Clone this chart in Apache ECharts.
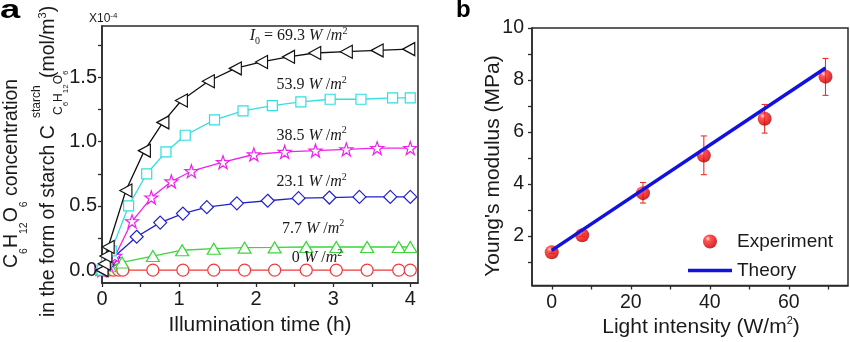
<!DOCTYPE html>
<html><head><meta charset="utf-8">
<script src="https://cdn.jsdelivr.net/npm/echarts@6/dist/echarts.min.js"></script>
<style>html,body{margin:0;padding:0;background:#fff}#c{width:850px;height:342px}</style>
</head><body><div id="c"></div>
<script>
// ---------- Panel a: starch concentration vs time (x1e-4 mol/m^3) ----------
const time693 = [0, 0.03, 0.05, 0.08, 0.31, 0.55, 0.79, 1.03, 1.38, 1.73, 2.07, 2.42, 2.76, 3.17, 3.57, 3.98];
const conc693 = [0, 0.05, 0.11, 0.18, 0.62, 0.93, 1.15, 1.32, 1.47, 1.57, 1.62, 1.66, 1.69, 1.70, 1.71, 1.72];
const time539 = [0, 0.06, 0.12, 0.345, 0.58, 0.83, 1.08, 1.46, 1.83, 2.21, 2.58, 2.96, 3.36, 3.77, 4.0];
const conc539 = [0, 0.07, 0.15, 0.50, 0.75, 0.92, 1.05, 1.17, 1.24, 1.28, 1.31, 1.33, 1.33, 1.34, 1.34];
const time385 = [0, 0.08, 0.17, 0.39, 0.64, 0.90, 1.16, 1.57, 1.97, 2.37, 2.77, 3.17, 3.57, 4.0];
const conc385 = [0, 0.05, 0.11, 0.38, 0.565, 0.69, 0.77, 0.84, 0.90, 0.92, 0.93, 0.94, 0.95, 0.95];
const time231 = [0, 0.07, 0.15, 0.45, 0.755, 1.05, 1.36, 1.75, 2.15, 2.55, 2.95, 3.34, 3.74, 4.0];
const conc231 = [0, 0.04, 0.10, 0.26, 0.37, 0.44, 0.49, 0.52, 0.54, 0.56, 0.565, 0.57, 0.57, 0.57];
const time77 = [0, 0.1, 0.26, 0.66, 1.04, 1.45, 1.85, 2.24, 2.65, 3.04, 3.44, 3.85, 4.0];
const conc77 = [0, 0.03, 0.06, 0.11, 0.155, 0.167, 0.175, 0.177, 0.18, 0.18, 0.18, 0.18, 0.18];
const time0 = [0.04, 0.085, 0.15, 0.215, 0.27, 0.66, 1.05, 1.45, 1.85, 2.24, 2.65, 3.04, 3.44, 3.85, 4.0];
const conc0 = [0, 0, 0, 0, 0, 0, 0, 0, 0, 0, 0, 0, 0, 0, 0];
const intensityLabels = ['69.3', '53.9', '38.5', '23.1', '7.7', '0'];

const aXTicks = [0, 0.5, 1, 1.5, 2, 2.5, 3, 3.5, 4];
const aXLabels = [0, 1, 2, 3, 4];
const aYTicks = [0, 0.25, 0.5, 0.75, 1, 1.25, 1.5, 1.75];
const aYLabels = [0, 0.5, 1, 1.5];

// ---------- Panel b: Young's modulus vs light intensity ----------
const intensity = [0, 7.7, 23.1, 38.5, 53.9, 69.3];
const modulus = [1.38, 2.03, 3.65, 5.10, 6.51, 8.13];
const errLow = [1.33, 1.98, 3.27, 4.36, 5.96, 7.41];
const errHigh = [1.43, 2.08, 4.06, 5.85, 7.06, 8.83];
const theoryX = [0, 69.3];
const theoryY = [1.45, 8.46];

const bXTicks = [0, 10, 20, 30, 40, 50, 60, 70];
const bXLabels = [0, 20, 40, 60];
const bYTicks = [1, 2, 3, 4, 5, 6, 7, 8, 9, 10];
const bYLabels = [2, 4, 6, 8, 10];

// ---------- styling ----------
const SANS = 'Liberation Sans, Arial, sans-serif';
const SERIF = 'Liberation Serif, Times New Roman, serif';
const AX = '#2a2a2a';
const TXT = '#1a1a1a';

const zip = (a, b) => a.map((v, i) => [v, b[i]]);

const labelRich = {
  n: { fontFamily: SERIF, fontSize: 16, color: TXT, lineHeight: 20 },
  i: { fontFamily: SERIF, fontStyle: 'italic', fontSize: 16, color: TXT, lineHeight: 20 },
  sup: { fontFamily: SERIF, fontSize: 10, color: TXT, verticalAlign: 'top', lineHeight: 10 },
  sub: { fontFamily: SERIF, fontSize: 10, color: TXT, verticalAlign: 'bottom', lineHeight: 10 }
};
function unitText(v, first) {
  const u = '{i|W}{n| /}{i|m}{sup|2}';
  return first ? '{i|I}{sub|0}{n| = ' + v + ' }' + u : '{n|' + v + ' }' + u;
}

const STAR = 'path://M50,2 L61.8,36.2 L97.6,36.2 L68.6,57.4 L79.6,92 L50,70.8 L20.4,92 L31.4,57.4 L2.4,36.2 L38.2,36.2 Z';

const seriesDefs = [
  { x: time693, y: conc693, color: '#111111', symbol: 'triangle', size: [13, 12], rot: 90, lab: [2.55, 1.82] },
  { x: time539, y: conc539, color: '#33dede', symbol: 'rect', size: [10, 10], rot: 0, lab: [2.72, 1.44] },
  { x: time385, y: conc385, color: '#ee22ee', symbol: STAR, size: [13, 13], rot: 0, lab: [2.72, 1.048] },
  { x: time231, y: conc231, color: '#2222cc', symbol: 'diamond', size: [13, 13], rot: 0, lab: [2.72, 0.685] },
  { x: time77, y: conc77, color: '#3ad63a', symbol: 'triangle', size: [13, 11], rot: 0, lab: [2.74, 0.325] },
  { x: time0, y: conc0, color: '#f03a3a', symbol: 'circle', size: [12, 12], rot: 0, lab: [2.79, 0.095] }
];

const series = seriesDefs.map((d, k) => ({
  type: 'line',
  name: 'I' + intensityLabels[k],
  xAxisIndex: 0, yAxisIndex: 0,
  data: zip(d.x, d.y),
  symbol: d.symbol,
  symbolSize: d.size,
  symbolRotate: d.rot,
  showAllSymbol: true,
  lineStyle: { color: d.color, width: 1.3 },
  itemStyle: { color: '#ffffff', borderColor: d.color, borderWidth: 1.2 },
  emphasis: { disabled: true },
  z: 3 + (6 - k),
  markPoint: {
    silent: true,
    symbol: 'circle', symbolSize: 1,
    itemStyle: { color: 'rgba(0,0,0,0)' },
    z: 20,
    data: [{ coord: d.lab, value: 0 }],
    label: { show: true, position: 'inside', formatter: unitText(intensityLabels[k], k === 0), rich: labelRich }
  }
}));

const sphere = new echarts.graphic.RadialGradient(0.35, 0.3, 0.75, [
  { offset: 0, color: '#ffd6d6' },
  { offset: 0.25, color: '#ff2a2a' },
  { offset: 0.75, color: '#dd0000' },
  { offset: 1, color: '#990000' }
]);

series.push({
  type: 'custom', name: 'err', xAxisIndex: 1, yAxisIndex: 1,
  data: intensity.map((v, i) => [v, errLow[i], errHigh[i]]),
  encode: { x: 0, y: [1, 2] },
  silent: true, z: 2,
  renderItem: (params, api) => {
    const x = api.value(0);
    const p1 = api.coord([x, api.value(1)]);
    const p2 = api.coord([x, api.value(2)]);
    const w = 3;
    const st = { stroke: '#e83030', lineWidth: 1.1 };
    return {
      type: 'group', children: [
        { type: 'line', shape: { x1: p1[0], y1: p1[1], x2: p2[0], y2: p2[1] }, style: st },
        { type: 'line', shape: { x1: p1[0] - w, y1: p1[1], x2: p1[0] + w, y2: p1[1] }, style: st },
        { type: 'line', shape: { x1: p2[0] - w, y1: p2[1], x2: p2[0] + w, y2: p2[1] }, style: st }
      ]
    };
  }
});
series.push({
  type: 'scatter', name: 'Experiment', xAxisIndex: 1, yAxisIndex: 1,
  data: zip(intensity, modulus), symbol: 'circle', symbolSize: 14,
  itemStyle: { color: sphere }, z: 3, emphasis: { disabled: true }
});
series.push({
  type: 'line', name: 'Theory', xAxisIndex: 1, yAxisIndex: 1,
  data: zip(theoryX, theoryY), symbol: 'none', showSymbol: false,
  lineStyle: { color: '#1212dd', width: 3.5 }, itemStyle: { color: '#1212dd' }, z: 4,
  emphasis: { disabled: true }
});

function axisCommon(ticks, labels, fmt, margin, fs) {
  return {
    type: 'value',
    axisLine: { show: true, onZero: false, lineStyle: { color: AX, width: 1.5 } },
    axisTick: { show: true, inside: false, length: 4, customValues: ticks, lineStyle: { color: AX, width: 1.3 } },
    axisLabel: { show: true, customValues: labels, formatter: fmt, margin: margin, fontSize: fs, fontFamily: SANS, color: TXT },
    splitLine: { show: false },
    minorTick: { show: false }
  };
}

const titleFont = 'Liberation Sans, Arial, sans-serif';
const graphic = [
  { type: 'text', x: 0, y: 11, scaleX: 1.4, style: { text: 'a', fontFamily: titleFont, fontWeight: 'bold', fontSize: 26, fill: '#000', textVerticalAlign: 'middle' } },
  { type: 'text', x: 456, y: 10, style: { text: 'b', fontFamily: titleFont, fontWeight: 'bold', fontSize: 24, fill: '#000', textVerticalAlign: 'middle' } },
  { type: 'text', x: 89, y: 18.5, style: {
      text: '{a|X10}{s|-4}', textVerticalAlign: 'middle',
      rich: { a: { fontFamily: titleFont, fontSize: 12, fill: TXT, lineHeight: 14 }, s: { fontFamily: titleFont, fontSize: 8, fill: TXT, verticalAlign: 'top', lineHeight: 8 } } } },
  { type: 'text', x: 260, y: 325, style: { text: 'Illumination time (h)', fontFamily: titleFont, fontSize: 21, fill: TXT, textAlign: 'center', textVerticalAlign: 'middle' } },
  { type: 'text', x: 701, y: 327, style: {
      text: '{a|Light intensity (W/m}{s|2}{a|)}', textAlign: 'center', textVerticalAlign: 'middle',
      rich: { a: { fontFamily: titleFont, fontSize: 21, fill: TXT, lineHeight: 24 }, s: { fontFamily: titleFont, fontSize: 11, fill: TXT, verticalAlign: 'top', lineHeight: 11 } } } },
  { type: 'text', x: 493, y: 166, rotation: Math.PI / 2, style: { text: "Young's modulus (MPa)", fontFamily: titleFont, fontSize: 21, fill: TXT, textAlign: 'center', textVerticalAlign: 'middle' } },
  // left y title, line 1
  { type: 'text', x: 11.5, y: 268, rotation: Math.PI / 2, style: {
      text: '{a|C}{s|6}{a|H}{s|12}{a|O}{s|6}{a| concentration}', textAlign: 'left', textVerticalAlign: 'middle',
      rich: { a: { fontFamily: titleFont, fontSize: 19.5, fill: TXT, lineHeight: 36 }, s: { fontFamily: titleFont, fontSize: 10.5, fill: TXT, verticalAlign: 'bottom', lineHeight: 10 } } } },
  // left y title, line 2
  { type: 'text', x: 48.5, y: 317, rotation: Math.PI / 2, style: { text: 'in the form of starch C', fontFamily: titleFont, fontSize: 19.5, fill: TXT, textAlign: 'left', textVerticalAlign: 'middle' } },
  { type: 'text', x: 37, y: 118, rotation: Math.PI / 2, style: { text: 'starch', fontFamily: titleFont, fontSize: 12, fill: TXT, textAlign: 'left', textVerticalAlign: 'middle' } },
  { type: 'text', x: 59, y: 115, rotation: Math.PI / 2, style: {
      text: '{a|C}{s|6}{a|H}{s|12}{a|O}{s|6}', textAlign: 'left', textVerticalAlign: 'middle',
      rich: { a: { fontFamily: titleFont, fontSize: 12, fill: TXT, lineHeight: 22 }, s: { fontFamily: titleFont, fontSize: 8, fill: TXT, verticalAlign: 'bottom', lineHeight: 8 } } } },
  { type: 'text', x: 48.5, y: 78, rotation: Math.PI / 2, style: {
      text: '{a|(mol/m}{s|3}{a|)}', textAlign: 'left', textVerticalAlign: 'middle',
      rich: { a: { fontFamily: titleFont, fontSize: 19.5, fill: TXT, lineHeight: 22 }, s: { fontFamily: titleFont, fontSize: 11, fill: TXT, verticalAlign: 'top', lineHeight: 11 } } } }
];

const option = {
  animation: false,
  backgroundColor: '#ffffff',
  textStyle: { fontFamily: SANS },
  grid: [
    { left: 102, top: 26, width: 316, height: 257, show: true, borderColor: AX, borderWidth: 1.5, backgroundColor: 'transparent' },
    { left: 532, top: 28, width: 316, height: 257.5, show: true, borderColor: AX, borderWidth: 1.5, backgroundColor: 'transparent' }
  ],
  xAxis: [
    Object.assign(axisCommon(aXTicks, aXLabels, v => String(v), 6, 20), { gridIndex: 0, min: 0, max: 4.1 }),
    Object.assign(axisCommon(bXTicks, bXLabels, v => String(v), 7, 19.5), { gridIndex: 1, min: -5, max: 75 })
  ],
  yAxis: [
    Object.assign(axisCommon(aYTicks, aYLabels, v => Number(v).toFixed(1), 5, 20), { gridIndex: 0, min: -0.1, max: 1.9 }),
    Object.assign(axisCommon(bYTicks, bYLabels, v => String(v), 8, 19.5), { gridIndex: 1, min: 0.1, max: 10 })
  ],
  legend: {
    data: [
      { name: 'Experiment' },
      { name: 'Theory', icon: 'path://M0,0 L100,0 L100,8 L0,8 Z' }
    ],
    orient: 'vertical', left: 688, top: 232, padding: 0,
    itemWidth: 44, itemHeight: 14, itemGap: 10, selectedMode: false,
    textStyle: { fontSize: 19, color: TXT, fontFamily: SANS }
  },
  graphic: graphic,
  series: series
};

const chart = echarts.init(document.getElementById('c'), null, { renderer: 'canvas' });
chart.setOption(option);
</script>
</body></html>
